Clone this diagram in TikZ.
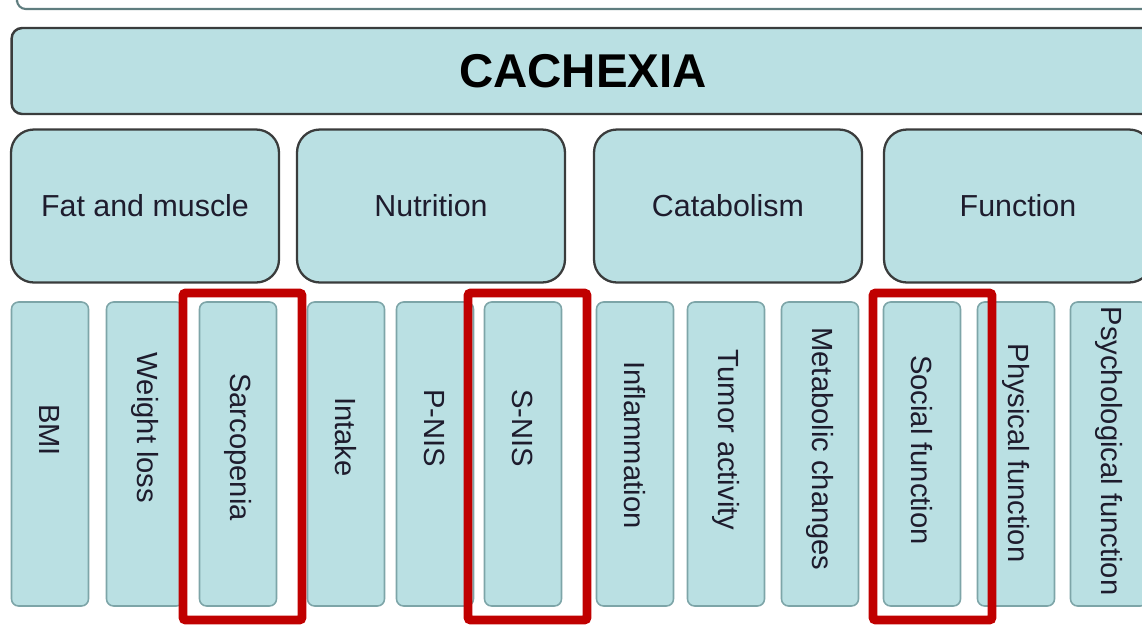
\documentclass[tikz,border=0pt]{standalone}
\usepackage{fontspec}
\setmainfont{Liberation Sans}
\definecolor{boxfill}{RGB}{186,224,227}
\definecolor{boxline}{RGB}{58,60,60}
\definecolor{topedge}{RGB}{95,125,127}
\definecolor{coledge}{RGB}{125,165,168}
\definecolor{hired}{RGB}{192,0,0}
\definecolor{inktext}{RGB}{30,28,45}
\tikzset{
  headbox/.style={draw=boxline,fill=boxfill,line width=1.4pt,rounded corners=6pt},
  catbox/.style={draw=boxline,fill=boxfill,line width=1.3pt,rounded corners=13pt,
    minimum width=5.36cm,minimum height=3.06cm,font=\fontsize{17.3}{20}\selectfont,text=inktext},
  colbox/.style={draw=coledge,fill=boxfill,line width=0.9pt,rounded corners=4pt,
    minimum width=1.54cm,minimum height=6.08cm},
  coltext/.style={rotate=-90,font=\fontsize{16.6}{20}\selectfont,text=inktext},
  hilite/.style={draw=hired,line width=5pt,rounded corners=1.5pt}
}
\begin{document}
\begin{tikzpicture}[x=0.02cm,y=-0.02cm]
  \useasboundingbox (0,0) rectangle (1142,626);
  \clip (0,0) rectangle (1142,626);
  % lower edge of the box above
  \draw[topedge,line width=1.2pt,rounded corners=5pt] (17,2) |- (1160,9);
  \node[headbox,minimum width=22.86cm,minimum height=1.72cm,
    font=\fontsize{27}{30}\selectfont\bfseries] (cachexia) at (583,71) {CACHEXIA};
  \foreach \n/\x/\t in {fat/145/Fat and muscle,nut/431/Nutrition,cat/728/Catabolism,fun/1018/Function}{
    \node[catbox] (\n) at (\x,206) {\t};
  }
  \foreach \n/\x/\y/\t in {1/50/430/BMI,2/145/428/Weight loss,3/238/447/Sarcopenia,
      4/346/437/Intake,5/435/428/P-NIS,6/523/428/S-NIS,7/635/445/Inflammation,
      8/726/440/Tumor activity,9/820/449/Metabolic changes,10/922/450/Social function,
      11/1016/453/Physical function,12/1109/451/Psychological function}{
    \node[colbox] (col\n) at (\x,454) {};
    \node[coltext] (lab\n) at (\x,\y) {\t};
  }
  \draw[hilite] (183,293) rectangle (302,620);
  \draw[hilite] (468,293) rectangle (587,620);
  \draw[hilite] (873,293) rectangle (992,620);
\end{tikzpicture}
\end{document}
